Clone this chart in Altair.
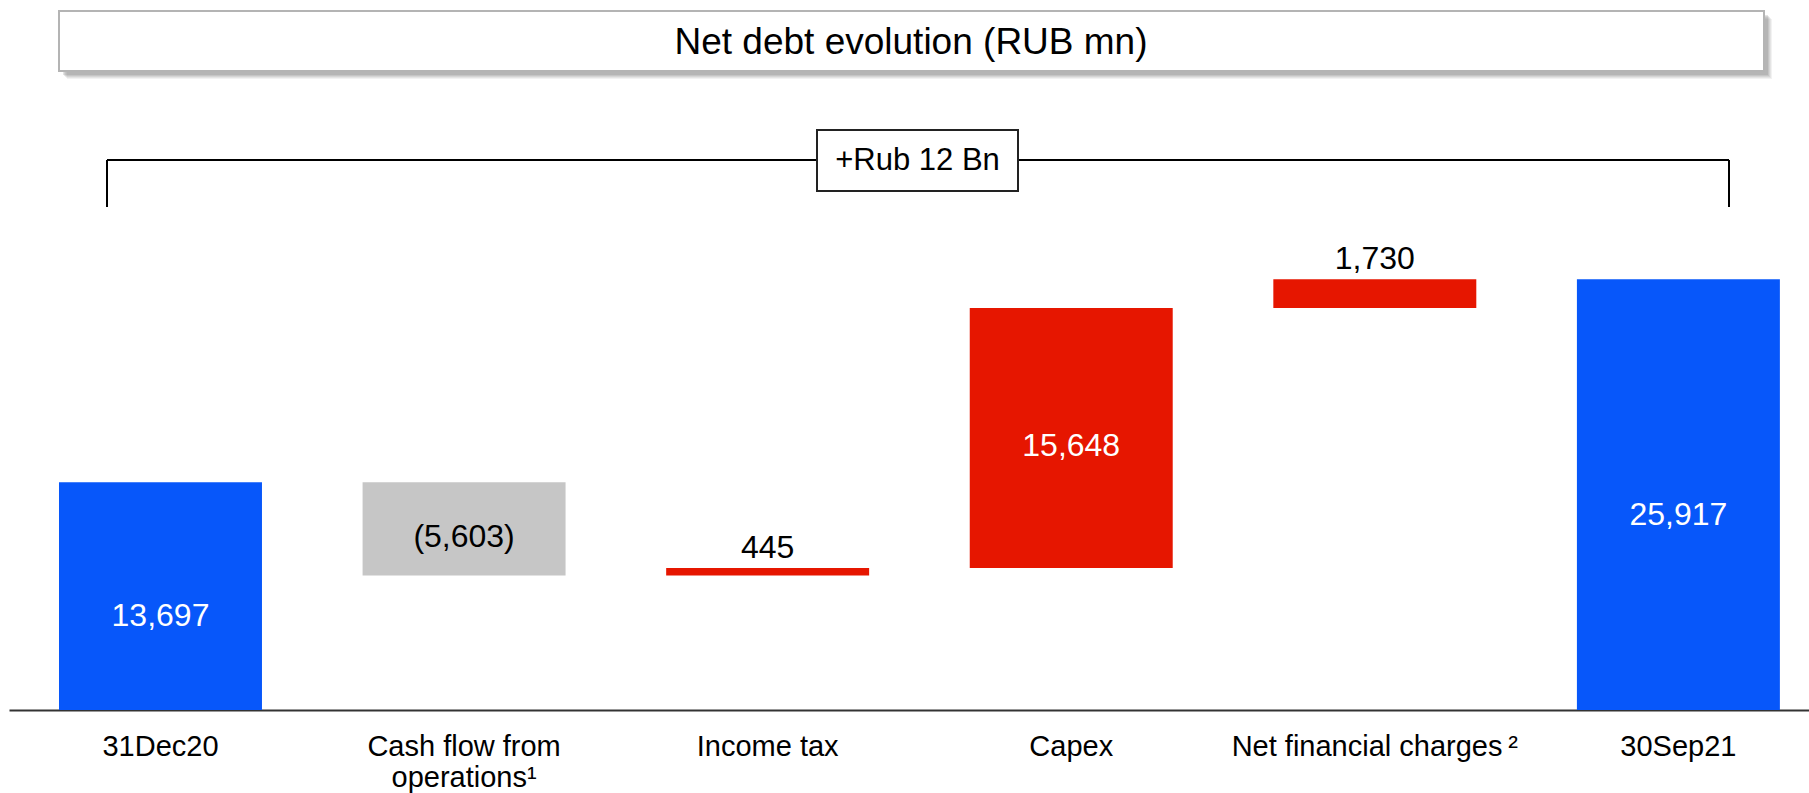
import altair as alt
import pandas as pd

# ---- data ----
categories = ["31Dec20", "Cash flow from\noperations¹", "Income tax", "Capex",
              "Net financial charges\u2009²", "30Sep21"]
values = [13697, -5603, 445, 15648, 1730, 25917]
kinds = ["total", "delta", "delta", "delta", "delta", "total"]
labels = ["13,697", "(5,603)", "445", "15,648", "1,730", "25,917"]
bar_colors = ["#0757FA", "#C6C6C6", "#E61600", "#E61600", "#E61600", "#0757FA"]
label_colors = ["#FFFFFF", "#000000", "#000000", "#FFFFFF", "#000000", "#FFFFFF"]
title_text = ["Net debt evolution (RUB mn)"]
bracket_text = ["+Rub 12 Bn"]

# ---- build waterfall table ----
rows = []
running = 0
for c, v, k, lab, bc, lc in zip(categories, values, kinds, labels, bar_colors, label_colors):
    if k == "total":
        start, end = 0, v
        running = v
    else:
        start, end = running, running + v
        running += v
    lo, hi = min(start, end), max(start, end)
    rows.append(dict(cat=c, kind=k, start=start, end=end, top=hi, mid=(lo + hi) / 2,
                     label=lab, color=bc, lcolor=lc,
                     inside=(hi - lo) > 2500))
df = pd.DataFrame(rows)

FONT = "Liberation Sans"

x_enc = alt.X(
    "cat:N", sort=categories, title=None,
    scale=alt.Scale(paddingInner=0.3314, paddingOuter=0.1303, align=0.632),
    axis=alt.Axis(labelAngle=0, ticks=False, domainColor="#333333", domainWidth=2,
                  labelFont=FONT, labelFontSize=29, labelColor="#000000",
                  labelPadding=22, labelLineHeight=31, labelLimit=500,
                  labelOverlap=False, labelBaseline="top",
                  labelExpr="split(datum.label, '\\n')"),
)
y_scale = alt.Scale(domain=[0, 42720], nice=False, zero=False)

base = alt.Chart(df)

bars = base.mark_bar().encode(
    x=x_enc,
    y=alt.Y("start:Q", scale=y_scale, axis=None),
    y2="end:Q",
    color=alt.Color("color:N", scale=None),
)

def inside_layer(kind, dy):
    return base.transform_filter(
        f"datum.inside && datum.kind == '{kind}'"
    ).mark_text(font=FONT, fontSize=32, baseline="middle", dy=dy).encode(
        x=alt.X("cat:N", sort=categories),
        y=alt.Y("mid:Q", scale=y_scale),
        text="label:N",
        color=alt.Color("lcolor:N", scale=None),
    )

inside_totals = inside_layer("total", 20)
inside_deltas = inside_layer("delta", 8)

above_labels = base.transform_filter("!datum.inside").mark_text(
    font=FONT, fontSize=32, baseline="alphabetic", dy=-10
).encode(
    x=alt.X("cat:N", sort=categories),
    y=alt.Y("top:Q", scale=y_scale),
    text="label:N",
    color=alt.Color("lcolor:N", scale=None),
)

# ---- title box with soft shadow (pixel offsets relative to plot origin at x=9) ----
OX = 9
tdf = pd.DataFrame({"t": title_text})
shadow_layers = []
for off, op in [(8, 0.10), (7, 0.12), (6, 0.15), (5, 0.18), (4, 0.22)]:
    shadow_layers.append(
        alt.Chart(tdf).mark_rect(fill="#808080", opacity=op).encode(
            x=alt.value(59 - OX + off), x2=alt.value(1764 - OX + off),
            y=alt.value(11 + off), y2=alt.value(71 + off),
        )
    )
title_box = alt.Chart(tdf).mark_rect(fill="#FFFFFF", stroke="#B4B4B4", strokeWidth=2).encode(
    x=alt.value(59 - OX), x2=alt.value(1764 - OX), y=alt.value(11), y2=alt.value(71)
)
title_txt = alt.Chart(tdf).mark_text(font=FONT, fontSize=37, baseline="middle", align="center").encode(
    x=alt.value(911 - OX), y=alt.value(43), text="t:N", color=alt.value("#000000")
)

# ---- bracket annotation ----
bdf = pd.DataFrame({"t": bracket_text})
br_h = alt.Chart(bdf).mark_rule(color="#000000", strokeWidth=2).encode(
    x=alt.value(107 - OX), x2=alt.value(1729 - OX), y=alt.value(160)
)
br_l = alt.Chart(bdf).mark_rule(color="#000000", strokeWidth=2).encode(
    x=alt.value(107 - OX), y=alt.value(160), y2=alt.value(207)
)
br_r = alt.Chart(bdf).mark_rule(color="#000000", strokeWidth=2).encode(
    x=alt.value(1729 - OX), y=alt.value(160), y2=alt.value(207)
)
br_box = alt.Chart(bdf).mark_rect(fill="#FFFFFF", stroke="#222222", strokeWidth=2).encode(
    x=alt.value(817 - OX), x2=alt.value(1018 - OX), y=alt.value(130), y2=alt.value(191)
)
br_txt = alt.Chart(bdf).mark_text(font=FONT, fontSize=31, baseline="middle", align="center").encode(
    x=alt.value(917.5 - OX), y=alt.value(161), text="t:N", color=alt.value("#000000")
)

chart = alt.layer(
    bars, inside_totals, inside_deltas, above_labels,
    *shadow_layers, title_box, title_txt,
    br_h, br_l, br_r, br_box, br_txt,
).properties(
    width=1800, height=710,
    autosize=alt.AutoSizeParams(type="none"),
    padding={"left": OX, "top": 0, "right": 0, "bottom": 83},
    background="#FFFFFF",
).configure_view(stroke=None)

chart.save("out.html", embed_options={"renderer": "svg", "actions": False})
